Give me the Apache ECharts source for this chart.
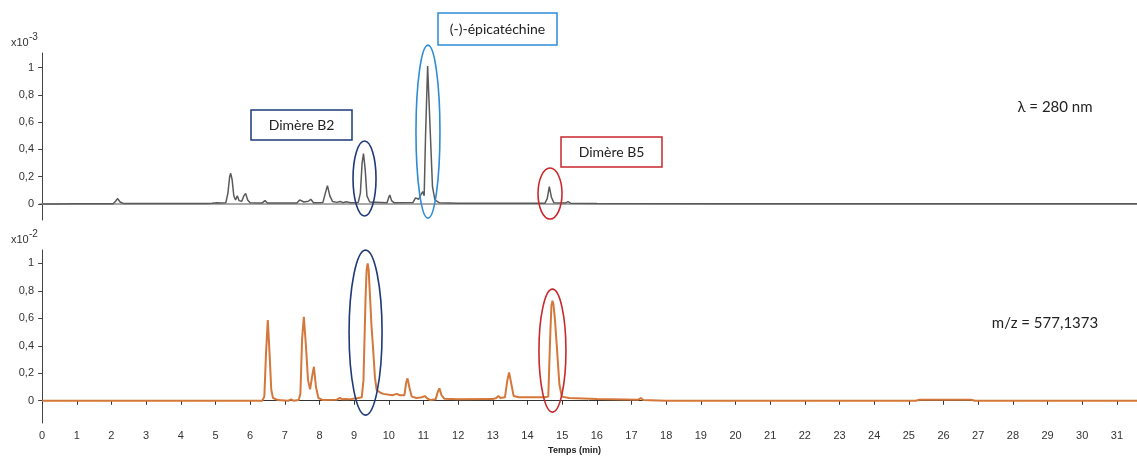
<!DOCTYPE html>
<html>
<head>
<meta charset="utf-8">
<script src="https://cdn.jsdelivr.net/npm/echarts@6/dist/echarts.min.js"></script>
<style>
html,body{margin:0;padding:0;background:#fff;}
#c{width:1137px;height:456px;}
</style>
</head>
<body>
<div id="c"></div>
<script>
// ---- Data ----
const xTicks = [0,1,2,3,4,5,6,7,8,9,10,11,12,13,14,15,16,17,18,19,20,21,22,23,24,25,26,27,28,29,30,31];
const yTicks = [0,0.2,0.4,0.6,0.8,1];

// UV trace, lambda = 280 nm (x10^-3)
const uvTime = [0,0.4,1.0,2.05,2.12,2.18,2.25,2.35,2.9,2.94,3.0,3.95,3.98,4.02,4.8,4.84,4.9,5.05,5.15,5.3,5.36,5.41,5.44,5.48,5.53,5.58,5.63,5.68,5.76,5.82,5.87,5.93,6.0,6.35,6.43,6.5,7.35,7.43,7.48,7.55,7.68,7.75,7.83,8.1,8.17,8.23,8.3,8.38,8.5,8.6,8.68,8.77,8.9,9.12,9.18,9.23,9.27,9.32,9.37,9.45,9.95,10.0,10.03,10.08,10.15,10.7,10.77,10.8,10.86,10.93,10.98,11.02,11.06,11.12,11.19,11.26,11.33,11.45,12.0,13.0,14.0,14.5,14.57,14.63,14.69,14.76,15.1,15.17,15.24,16.0,19.5,25.0,31.6];
const uvSignal = [0,0,0.002,0.002,0.02,0.04,0.015,0.003,0.003,0.01,0.003,0.003,0.006,0.003,0.004,0.01,0.005,0.01,0.007,0.01,0.08,0.2,0.225,0.18,0.06,0.03,0.06,0.025,0.02,0.06,0.078,0.03,0.01,0.008,0.025,0.008,0.008,0.03,0.04,0.015,0.02,0.035,0.01,0.012,0.08,0.135,0.06,0.018,0.012,0.018,0.01,0.016,0.01,0.012,0.08,0.3,0.37,0.25,0.06,0.015,0.01,0.05,0.066,0.025,0.01,0.012,0.045,0.053,0.035,0.07,0.09,0.06,0.5,1.01,0.566,0.127,0.03,0.01,0.005,0.005,0.005,0.005,0.04,0.127,0.05,0.01,0.008,0.017,0.006,0.004,0.002,0.002,0.002];

// MS trace, m/z = 577,1373 (x10^-2)
const msTime = [0,6.35,6.41,6.46,6.51,6.56,6.61,6.66,6.8,7.1,7.18,7.25,7.4,7.45,7.5,7.55,7.61,7.67,7.73,7.79,7.84,7.9,7.97,8.1,8.5,8.59,8.66,8.74,8.85,9.12,9.22,9.27,9.33,9.36,9.39,9.42,9.45,9.5,9.55,9.6,9.65,9.75,9.84,10.1,10.23,10.26,10.32,10.37,10.45,10.5,10.54,10.6,10.66,10.8,10.95,11.04,11.12,11.2,11.35,11.42,11.46,11.52,11.6,12.0,13.0,13.1,13.16,13.22,13.35,13.42,13.47,13.52,13.6,13.75,14.5,14.6,14.66,14.69,14.72,14.75,14.79,14.84,14.92,14.99,15.2,16.0,17.2,17.27,17.34,18.0,25.2,25.3,26.8,26.9,31.6];
const msSignal = [0,0,0.03,0.35,0.587,0.35,0.08,0.02,0.005,0,0.01,0,0.005,0.05,0.45,0.611,0.4,0.15,0.083,0.18,0.247,0.1,0.02,0.005,0.008,0.02,0.01,0.012,0.01,0.02,0.025,0.15,0.75,0.95,1.0,0.95,0.8,0.55,0.369,0.17,0.078,0.06,0.05,0.04,0.05,0.063,0.04,0.028,0.04,0.13,0.163,0.09,0.03,0.02,0.025,0.034,0.015,0.005,0.01,0.07,0.09,0.04,0.015,0.01,0.012,0.02,0.034,0.02,0.025,0.15,0.206,0.14,0.035,0.025,0.025,0.03,0.5,0.69,0.728,0.7,0.6,0.418,0.12,0.03,0.02,0.012,0.008,0.02,0.005,0,0,0.007,0.007,0,0];

// Annotations: ellipses anchored at data positions (panel, time, value, radii px)
const ellipsePanel = [0,0,0,1,1];
const ellipseTime  = [9.30,11.13,14.65,9.33,14.72];
const ellipseValue = [0.187,0.53,0.077,0.496,0.365];
const ellipseRx    = [11.5,12,12,16.5,13.5];
const ellipseRy    = [37.5,86.5,25.5,82.5,61.5];
const ellipseColor = ['#1f3a78','#2e8bd6','#c8282e','#1f3a78','#c8282e'];

const boxLabels = ['Dimère B2','(-)-épicatéchine','Dimère B5'];
const boxColors = ['#1f3a78','#2e8bd6','#c8282e'];

// ---- Build ----
const uvData = uvTime.map((t,i)=>[t,uvSignal[i]]);
const msData = msTime.map((t,i)=>[t,msSignal[i]]);

const fmt = v => String(Number(v.toFixed(1))).replace('.',',');
const labelFont = {fontFamily:'"Liberation Sans", Arial, sans-serif', fontSize:11, color:'#333'};

function yAxis(gi,min,max){
  return {
    type:'value', gridIndex:gi, min:min, max:max,
    axisLine:{show:true,lineStyle:{color:'#444',width:1}},
    axisTick:{show:true,length:4,customValues:yTicks,lineStyle:{color:'#444'}},
    axisLabel:Object.assign({customValues:yTicks,formatter:fmt,margin:6},labelFont),
    splitLine:{show:false}
  };
}

const chart = echarts.init(document.getElementById('c'), null, {renderer:'canvas'});
const XMIN=-0.06, XMAX=31.58;
chart.setOption({
  animation:false,
  backgroundColor:'#fff',
  grid:[
    {left:40,right:0,top:53,height:167},
    {left:40,right:0,top:250,height:173}
  ],
  xAxis:[
    {type:'value',gridIndex:0,min:XMIN,max:XMAX,offset:6,
     axisLine:{show:true,lineStyle:{color:'#a9a9a9',width:2}},
     axisTick:{show:false},axisLabel:{show:false},splitLine:{show:false}},
    {type:'value',gridIndex:1,min:XMIN,max:XMAX,
     axisLine:{show:true,lineStyle:{color:'#333',width:1}},
     axisTick:{show:true,length:4,customValues:xTicks,lineStyle:{color:'#333'}},
     axisLabel:Object.assign({customValues:xTicks,margin:7},labelFont,{fontFamily:'"Liberation Sans Narrow","Liberation Sans",Arial,sans-serif',fontSize:11}),
     splitLine:{show:false},
     name:'Temps (min)',nameLocation:'middle',nameGap:23,
     nameTextStyle:{fontFamily:'"Liberation Sans Narrow","Liberation Sans",Arial,sans-serif',fontSize:9,fontWeight:'bold',color:'#222',padding:[0,28,0,0]}}
  ],
  yAxis:[ yAxis(0,-0.117,1.106), yAxis(1,-0.162,1.097) ],
  series:[
    {type:'line',xAxisIndex:0,yAxisIndex:0,data:uvData,showSymbol:false,
     lineStyle:{color:'#5a5a5a',width:1.5},silent:true},
    {type:'line',xAxisIndex:1,yAxisIndex:1,data:msData,showSymbol:false,
     lineStyle:{color:'#d4773a',width:2},silent:true}
  ]
});

// Annotation graphics
const g = [];
ellipsePanel.forEach((p,i)=>{
  const c = chart.convertToPixel({xAxisIndex:p,yAxisIndex:p},[ellipseTime[i],ellipseValue[i]]);
  g.push({type:'ellipse',shape:{cx:c[0],cy:c[1],rx:ellipseRx[i],ry:ellipseRy[i]},
    style:{fill:null,stroke:ellipseColor[i],lineWidth:1.6},z:10});
});
const boxPos = [[251,110,101,30],[438,13,119,32],[561,137,101,30]];
boxLabels.forEach((txt,i)=>{
  const b = boxPos[i];
  g.push({type:'rect',shape:{x:b[0],y:b[1],width:b[2],height:b[3]},
    style:{fill:'#fff',stroke:boxColors[i],lineWidth:1.5},z:10});
  g.push({type:'text',x:b[0]+b[2]/2,y:b[1]+b[3]/2,
    style:{text:txt,fill:'#222',font:'14px Lato, "Open Sans", sans-serif',align:'center',verticalAlign:'middle'},z:11});
});
g.push({type:'text',x:1055,y:107,style:{text:'λ = 280 nm',fill:'#222',font:'15px Lato, "Open Sans", sans-serif',align:'center',verticalAlign:'middle'},z:11});
g.push({type:'text',x:1045,y:323,style:{text:'m/z = 577,1373',fill:'#222',font:'15px Lato, "Open Sans", sans-serif',align:'center',verticalAlign:'middle'},z:11});
// axis exponent labels
g.push({type:'text',x:11,y:43,style:{text:'x10',fill:'#333',font:'11px "Liberation Sans", Arial, sans-serif',verticalAlign:'middle'},z:11});
g.push({type:'text',x:29,y:37,style:{text:'-3',fill:'#333',font:'10px "Liberation Sans", Arial, sans-serif',verticalAlign:'middle'},z:11});
g.push({type:'text',x:11,y:240,style:{text:'x10',fill:'#333',font:'11px "Liberation Sans", Arial, sans-serif',verticalAlign:'middle'},z:11});
g.push({type:'text',x:29,y:234,style:{text:'-2',fill:'#333',font:'10px "Liberation Sans", Arial, sans-serif',verticalAlign:'middle'},z:11});
chart.setOption({graphic:{elements:g}});
</script>
</body>
</html>
